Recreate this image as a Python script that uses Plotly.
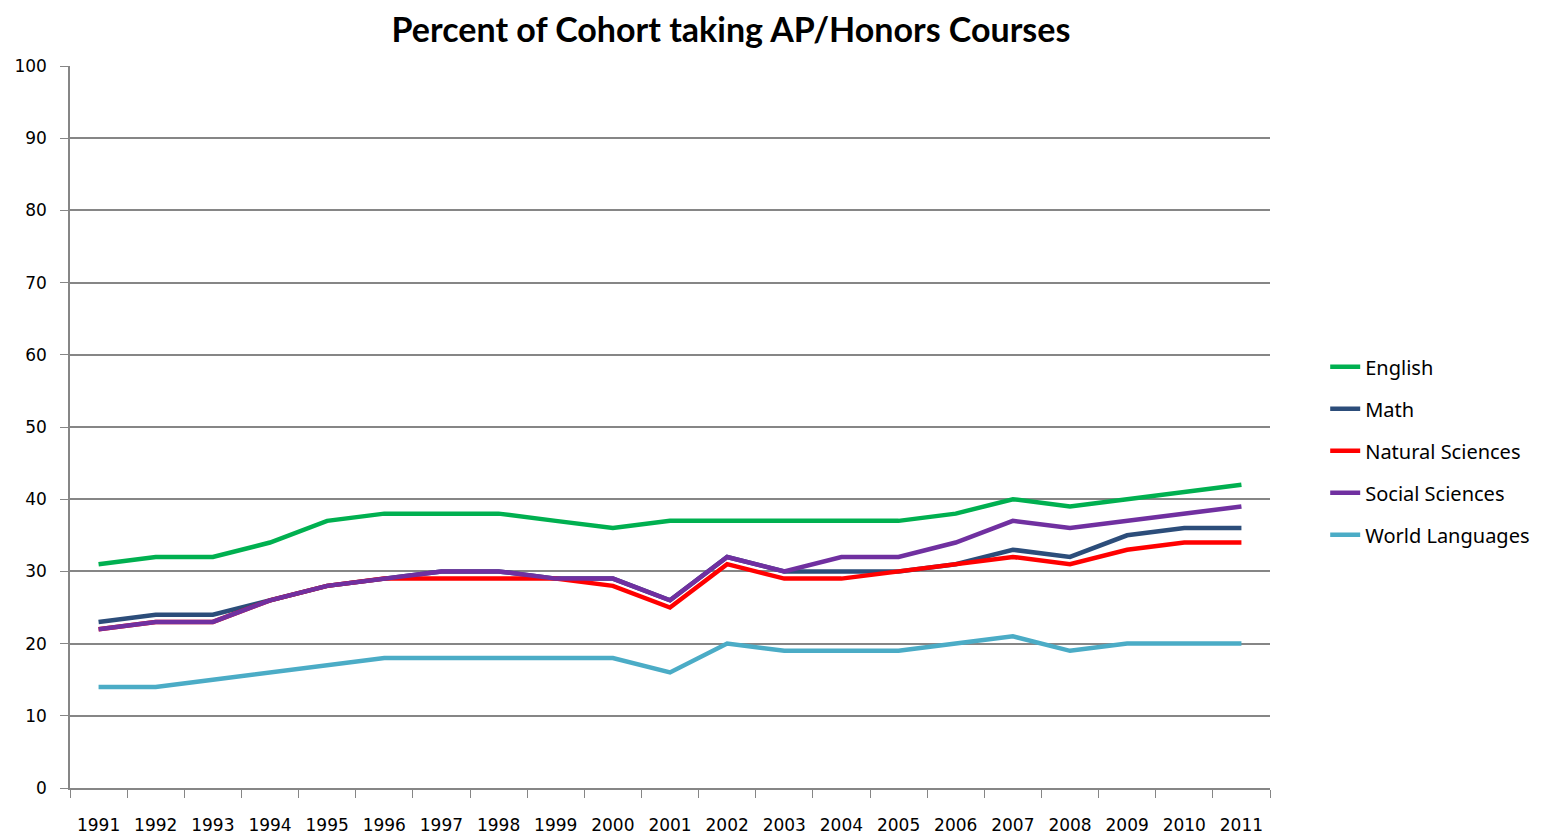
import plotly.graph_objects as go

# Values
years = [str(y) for y in range(1991, 2012)]

english = [31, 32, 32, 34, 37, 38, 38, 38, 37, 36, 37, 37, 37, 37, 37, 38, 40, 39, 40, 41, 42]
math = [23, 24, 24, 26, 28, 29, 30, 30, 29, 29, 26, 32, 30, 30, 30, 31, 33, 32, 35, 36, 36]
natural_sciences = [22, 23, 23, 26, 28, 29, 29, 29, 29, 28, 25, 31, 29, 29, 30, 31, 32, 31, 33, 34, 34]
social_sciences = [22, 23, 23, 26, 28, 29, 30, 30, 29, 29, 26, 32, 30, 32, 32, 34, 37, 36, 37, 38, 39]
world_languages = [14, 14, 15, 16, 17, 18, 18, 18, 18, 18, 16, 20, 19, 19, 19, 20, 21, 19, 20, 20, 20]

series = [
    ("English", english, "#00B050"),
    ("Math", math, "#2C4D7A"),
    ("Natural Sciences", natural_sciences, "#FF0000"),
    ("Social Sciences", social_sciences, "#7030A0"),
    ("World Languages", world_languages, "#4BACC6"),
]

fig = go.Figure()
for name, vals, color in series:
    fig.add_trace(go.Scatter(
        x=years, y=vals, name=name, mode="lines",
        line=dict(color=color, width=4.5),
        legendgroup=name,
    ))

# page body has an 8px margin, so the figure is sized to fit the window
fig.update_layout(
    width=1540,
    height=827,
    plot_bgcolor="white",
    paper_bgcolor="white",
    margin=dict(l=62, r=278, t=58, b=47, autoexpand=False),
    title=dict(
        text="Percent of Cohort taking AP/Honors Courses",
        x=723 / 1540, xanchor="center",
        y=1 - 22 / 827, yanchor="middle",
        font=dict(family="Lato", size=34, color="black", weight="bold"),
    ),
    font=dict(family="DejaVu Sans", size=17, color="black"),
    legend=dict(
        x=1.046, xanchor="left",
        y=0.467, yanchor="middle",
        font=dict(family="Noto Sans", size=20),
        tracegroupgap=13,
        bgcolor="rgba(0,0,0,0)",
    ),
    showlegend=True,
)

fig.update_xaxes(
    type="category",
    range=[-0.5, 20.5],
    automargin=False,
    showgrid=False,
    showline=True, linecolor="#868686", linewidth=1.5,
    ticks="outside", tickson="boundaries", ticklen=8, tickcolor="#868686",
    ticklabelstandoff=21,
    tickfont=dict(family="DejaVu Sans", size=17, color="black"),
)

fig.update_yaxes(
    range=[0, 100],
    dtick=10,
    automargin=False,
    showgrid=True, gridcolor="#868686", gridwidth=1.5,
    showline=True, linecolor="#868686", linewidth=1.5,
    ticks="outside", ticklen=8, tickcolor="#868686",
    ticklabelstandoff=10,
    zeroline=False,
    tickfont=dict(family="DejaVu Sans", size=17, color="black"),
)

fig.write_html("out.html")
